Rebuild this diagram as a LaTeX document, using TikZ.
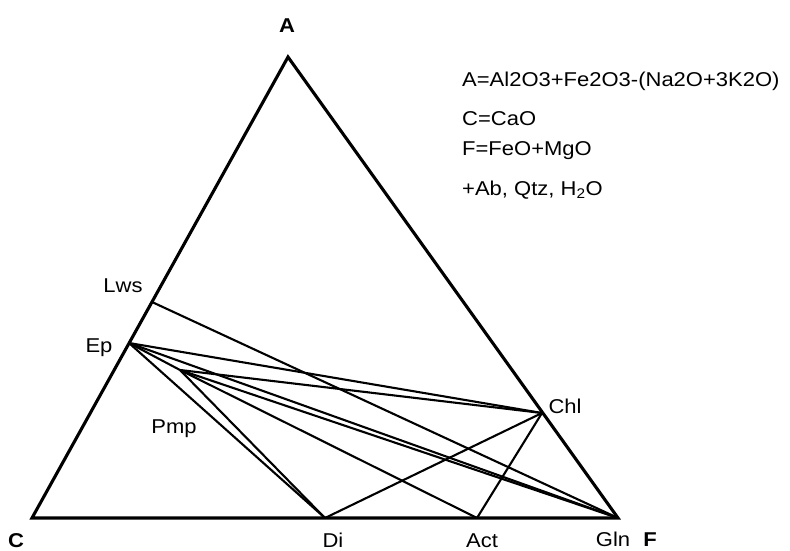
\documentclass[tikz,border=0pt]{standalone}
\usepackage{fontspec}
\setmainfont{Liberation Sans}[FakeStretch=1.1]
\usepackage{tikz}
\tikzset{
  rim/.style={line width=3.1pt, line join=miter},
  tie/.style={line width=2.1pt},
  phaselabel/.style={font=\fontsize{20}{22}\selectfont, inner sep=0pt, anchor=base},
  polelabel/.style={font=\fontsize{20}{22}\selectfont\bfseries, inner sep=0pt, anchor=base},
  formula/.style={font=\fontsize{20}{22}\selectfont, inner sep=0pt, anchor=base west},
}

\begin{document}
\begin{tikzpicture}[x=1pt,y=-1pt]
  \useasboundingbox (0,0) rectangle (790,551);
  % corners of the ACF triangle
  \coordinate (A) at (288,57);
  \coordinate (C) at (32,518);
  \coordinate (F) at (618,518);
  % phases
  \coordinate (Lws) at (152,302);
  \coordinate (Ep) at (129,343);
  \coordinate (Pmp) at (180,370);
  \coordinate (Chl) at (542,413);
  \coordinate (Di) at (325,518);
  \coordinate (Act) at (477,518);
  \coordinate (Gln) at (F);
  \draw[rim] (A) -- (C) -- (F) -- cycle;
  \foreach \a/\b in {Lws/Gln, Ep/Chl, Ep/Gln, Ep/Pmp, Ep/Di, Pmp/Chl,
                     Pmp/Gln, Pmp/Act, Pmp/Di, Chl/Di, Chl/Act}
    \draw[tie] (\a) -- (\b);
  % labels
  \node[polelabel] (labA) at (287,33) {A};
  \node[polelabel] (labC) at (16,547) {C};
  \node[polelabel] (labF) at (650,546) {F};
  \node[phaselabel] (labLws) at (123,292) {Lws};
  \node[phaselabel] (labEp) at (99,352) {Ep};
  \node[phaselabel] (labPmp) at (174,433) {Pmp};
  \node[phaselabel] (labChl) at (565,413) {Chl};
  \node[phaselabel] (labDi) at (333,547) {Di};
  \node[phaselabel] (labAct) at (482,547) {Act};
  \node[phaselabel] (labGln) at (613,546) {Gln};
  % legend
  \node[formula] (defA) at (462,86) {A=Al2O3+Fe2O3-(Na2O+3K2O)};
  \node[formula] (defC) at (462,125) {C=CaO};
  \node[formula] (defF) at (462,155) {F=FeO+MgO};
  \node[formula] (extra) at (462,195) {+Ab, Qtz, H\textsubscript{2}O};
\end{tikzpicture}
\end{document}
